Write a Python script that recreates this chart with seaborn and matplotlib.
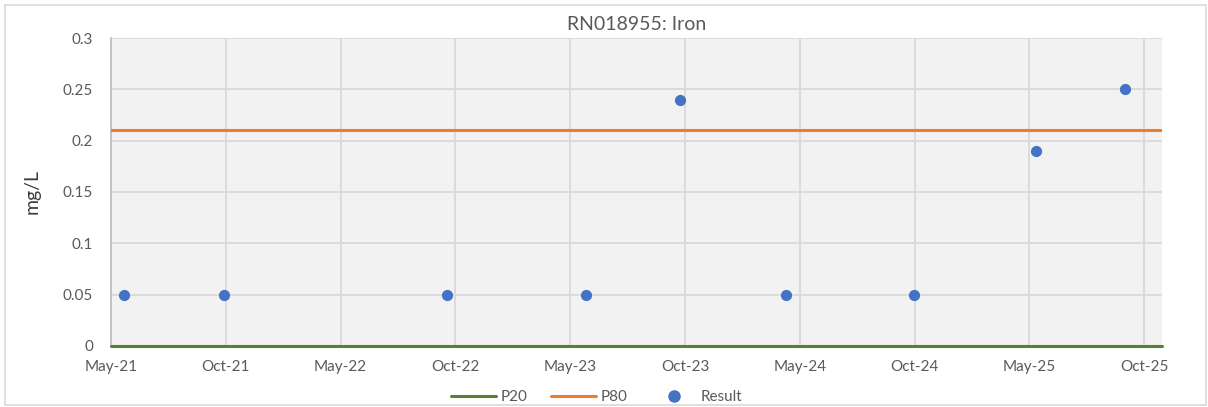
import numpy as np
import pandas as pd
from matplotlib import pyplot as plt
from matplotlib.patches import Rectangle
from matplotlib.lines import Line2D
import seaborn as sns

# sample results (mg/L)
sample_dates = ["2021-05-22", "2021-10-27", "2022-10-18", "2023-05-27", "2023-10-23",
                "2024-04-09", "2024-10-29", "2025-05-12", "2025-09-30"]
result_values = [0.05, 0.05, 0.05, 0.05, 0.24, 0.05, 0.05, 0.19, 0.25]

# percentile thresholds
p20_value = 0.0
p80_value = 0.21

tick_labels = ["May-21", "Oct-21", "May-22", "Oct-22", "May-23",
               "Oct-23", "May-24", "Oct-24", "May-25", "Oct-25"]
axis_start = "2021-05-01"
tick_step_days = 182.625
axis_span_days = 1672

green = '#548235'
orange = '#ED7D31'
blue = '#4472C4'

df = pd.DataFrame({'date': pd.to_datetime(sample_dates), 'result': result_values})

sns.set_style("white")
plt.rcParams['font.family'] = ['Lato', 'DejaVu Sans']

fig = plt.figure(figsize=(12.08, 4.07), dpi=100)
ax = fig.add_axes([0.0919, 0.150, 0.962 - 0.0919, 0.9066 - 0.150])
ax.set_facecolor('#F2F2F2')

start = pd.Timestamp(axis_start)
end = start + pd.Timedelta(days=axis_span_days)
ticks = [start + pd.Timedelta(days=k * tick_step_days) for k in range(len(tick_labels))]

ax.set_xlim(start, end)
ax.set_ylim(0, 0.3)
ax.set_yticks(np.arange(0, 0.301, 0.05))
ax.set_yticklabels(['0', '0.05', '0.1', '0.15', '0.2', '0.25', '0.3'])
ax.set_xticks(ticks)
ax.set_xticklabels(tick_labels)
ax.grid(True, color='#D9D9D9', linewidth=1.3)
ax.set_axisbelow(True)

line_df = pd.DataFrame({'date': [start, end],
                        'P20': [p20_value, p20_value],
                        'P80': [p80_value, p80_value]})
sns.lineplot(data=line_df, x='date', y='P20', ax=ax, color=green, linewidth=2.2,
             clip_on=False, zorder=3, legend=False)
sns.lineplot(data=line_df, x='date', y='P80', ax=ax, color=orange, linewidth=2.2,
             zorder=3, legend=False)
sns.scatterplot(data=df, x='date', y='result', ax=ax, color=blue, s=65,
                edgecolor=blue, linewidth=0, zorder=4, legend=False)

for side in ['top', 'right', 'bottom']:
    ax.spines[side].set_visible(False)
ax.spines['left'].set_color('#BFBFBF')
ax.spines['left'].set_linewidth(1.3)

ax.tick_params(axis='both', length=0, labelsize=11, colors='#595959')
ax.tick_params(axis='y', pad=13)
ax.tick_params(axis='x', pad=10)
ax.set_xlabel('')
ax.set_ylabel('mg/L', fontsize=14, color='#404040', labelpad=16)
ax.set_title('RN018955: Iron', fontsize=14, color='#595959', pad=6)

handles = [Line2D([], [], color=green, linewidth=2.2),
           Line2D([], [], color=orange, linewidth=2.2),
           Line2D([], [], color=blue, marker='o', markersize=8, linestyle='none')]
ax.legend(handles, ['P20', 'P80', 'Result'], loc='upper center',
          bbox_to_anchor=(0.494, 0.075), bbox_transform=fig.transFigure,
          ncol=3, frameon=False, fontsize=11, labelcolor='#595959',
          handlelength=2.9, columnspacing=1.6, handletextpad=0.3)

fig.patches.append(Rectangle((5 / 1208, 2 / 407), 1201 / 1208, 400 / 407,
                             transform=fig.transFigure, fill=False,
                             edgecolor='#D9D9D9', linewidth=1.2))

fig.savefig('out.png', dpi=100)
plt.close()
